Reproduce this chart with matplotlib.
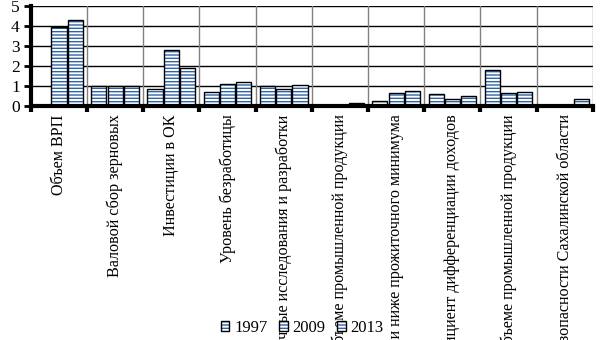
import numpy as np
import matplotlib.pyplot as plt

plt.rcParams.update({
    'font.family': 'Liberation Serif',
    'font.size': 12,
    'hatch.linewidth': 1.0,
})

# -------------------------------------------------
# data
# -------------------------------------------------
categories = [
    "Объем ВРП",
    "Валовой сбор зерновых",
    "Инвестиции в ОК",
    "Уровень безработицы",
    "Затраты на научные исследования и разработки",
    "Доля инновационной продукции в объеме промышленной продукции",
    "Доля населения с доходами ниже прожиточного минимума",
    "Коэффициент дифференциации доходов",
    "Доля обрабатывающих производств в объеме промышленной продукции",
    "Уровень продовольственной безопасности Сахалинской области",
]

years = ["1997", "2009", "2013"]

v1997 = [np.nan, 1.00, 0.85, 0.68, 1.00, np.nan, 0.24, 0.58, 1.80, np.nan]
v2009 = [3.98, 1.00, 2.83, 1.08, 0.83, np.nan, 0.63, 0.35, 0.63, np.nan]
v2013 = [4.30, 1.00, 1.88, 1.18, 1.03, 0.16, 0.73, 0.48, 0.68, 0.34]

series = [v1997, v2009, v2013]

hatch_blue = '#2f63a6'

# -------------------------------------------------
# plot
# -------------------------------------------------
fig = plt.figure(figsize=(6.05, 3.40), dpi=100)
ax = fig.add_axes([0.051, 0.688, 0.929, 0.294])

x = np.arange(len(categories))
width = 0.27
offsets = [-0.29, 0.0, 0.29]

handles = []
for vals, off, yr in zip(series, offsets, years):
    # blue hatch layer, then black outline on top
    hb = ax.bar(x + off, vals, width, color='white', edgecolor=hatch_blue,
                linewidth=0, hatch='-----', zorder=3)
    ob = ax.bar(x + off, vals, width, fill=False, edgecolor='black',
                linewidth=1.0, zorder=3.5)
    handles.append((hb, ob))

ax.set_xlim(-0.5, len(categories) - 0.5)
ax.set_ylim(0, 5)
ax.set_yticks(range(0, 6))

# grid: black horizontal, gray vertical at category borders
for yv in range(1, 6):
    ax.axhline(yv, color='black', linewidth=1.0, zorder=1)
for xv in np.arange(-0.5, len(categories), 1.0):
    ax.axvline(xv, color='gray', linewidth=1.0, zorder=1)

ax.set_xticks(np.arange(-0.5, len(categories), 1.0))
ax.set_xticklabels([])
ax.set_xticks(x, minor=True)
ax.set_xticklabels(categories, minor=True, rotation=90, ha='center', va='top',
                   fontsize=11.6)
ax.tick_params(axis='x', which='major', direction='out', length=4, width=3)
ax.tick_params(axis='x', which='minor', length=0, pad=6)
ax.tick_params(axis='y', direction='out', length=5, width=2, pad=3,
               labelsize=12.5)

for side in ['top', 'right']:
    ax.spines[side].set_visible(False)
for side in ['left', 'bottom']:
    ax.spines[side].set_linewidth(3)
    ax.spines[side].set_zorder(4)

fig.legend(handles, years, loc='center', bbox_to_anchor=(0.5, 0.035), ncol=3,
           frameon=False, handlelength=0.5, handleheight=0.5,
           handletextpad=0.3, columnspacing=0.7, borderpad=0)

plt.savefig("out.png", dpi=100)
plt.close()
